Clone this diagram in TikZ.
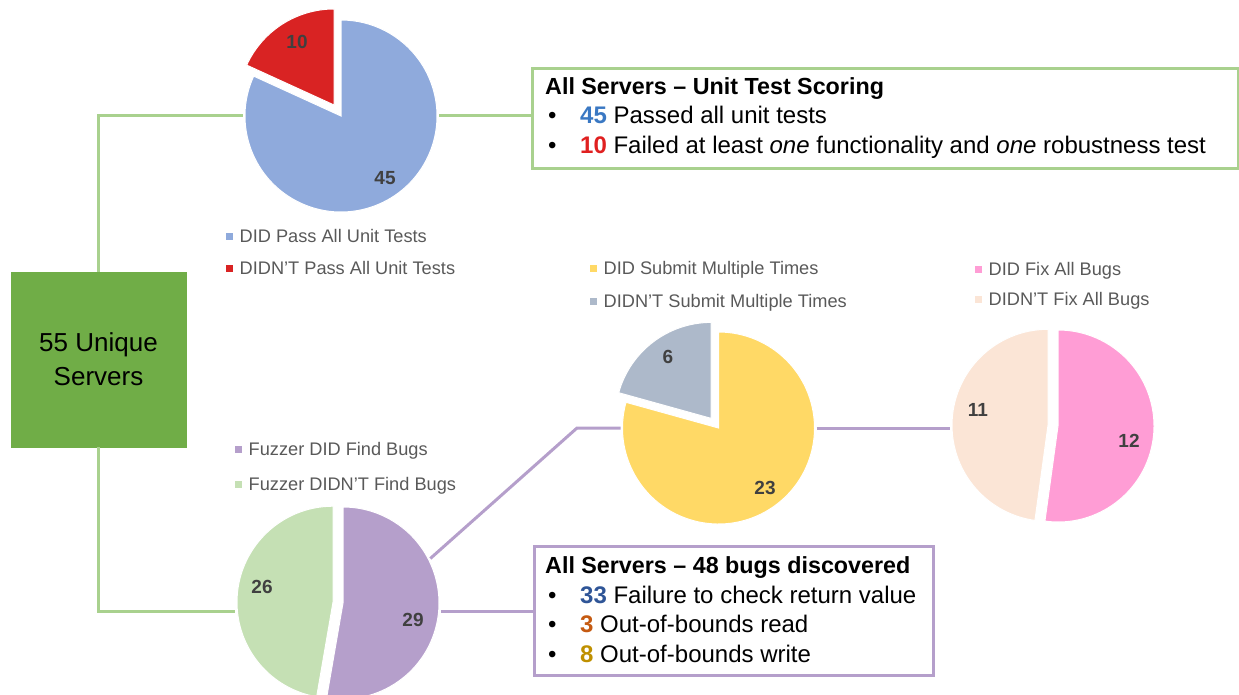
\documentclass[tikz,border=0pt]{standalone}
\usepackage{fontspec}
\setmainfont{Liberation Sans}
\usetikzlibrary{calc}

% palette
\definecolor{passblue}{HTML}{8FAADC}
\definecolor{failred}{HTML}{D92323}
\definecolor{multiyellow}{HTML}{FFD966}
\definecolor{singlegray}{HTML}{ADB9CA}
\definecolor{fixpink}{HTML}{FF9DD5}
\definecolor{nofixpeach}{HTML}{FBE5D6}
\definecolor{bugpurple}{HTML}{B59FCB}
\definecolor{nobuggreen}{HTML}{C5E0B4}
\definecolor{serversgreen}{HTML}{70AD47}
\definecolor{greenline}{HTML}{A9D18E}
\definecolor{legendgray}{HTML}{595959}
\definecolor{labelgray}{HTML}{404040}
\definecolor{numblue}{HTML}{3A78C3}
\definecolor{numred}{HTML}{E02020}
\definecolor{numnavy}{HTML}{2F5597}
\definecolor{numorange}{HTML}{C55A11}
\definecolor{numgold}{HTML}{BF9000}

% one wedge of a pie: colour, centre x, centre y, radius, start angle, end angle
\newcommand{\pieslice}[6]{%
  \fill[#1, draw=white, line width=1pt] (#2,#3) -- ++(#5:#4pt)
    arc[start angle=#5, end angle=#6, radius=#4pt] -- cycle;}

\tikzset{
  piearea/.style={circle, minimum size=192pt, inner sep=0pt, outer sep=2pt},
  pielabel/.style={font=\fontsize{19}{22}\selectfont\bfseries, text=labelgray, inner sep=0pt},
  legendentry/.style={anchor=west, inner sep=0pt, font=\fontsize{18.2}{22}\selectfont, text=legendgray},
  greenlink/.style={draw=greenline, line width=3pt},
  purplelink/.style={draw=bugpurple, line width=3pt},
  summarybox/.style={anchor=north west, line width=3pt, fill=white, inner sep=0pt},
  summarytext/.style={anchor=west, align=left, inner sep=0pt,
    font=\fontsize{24}{29.5}\selectfont},
}
\newcommand{\legsq}[1]{\textcolor{#1}{\rule[0.14em]{7pt}{7pt}}\hspace{6.5pt}}
\newcommand{\bul}{\hspace*{3pt}\makebox[32pt][l]{•}}
\newcommand{\boxtitle}[1]{{\fontsize{23.3}{29.5}\selectfont\bfseries #1}}

\begin{document}
\begin{tikzpicture}[x=1pt,y=1pt]
\useasboundingbox (0,0) rectangle (1239,-695);

% pie footprints used as connector ends
\node[piearea] (passpie) at (341,-116) {};
\node[piearea] (submitpie) at (718.5,-428) {};
\node[piearea] (fixpie) at (1058,-426) {};
\node[piearea] (fuzzpie) at (343,-603) {};

% central box
\node[fill=serversgreen, draw=serversgreen, minimum width=175pt, minimum height=175pt,
      inner sep=0pt, align=center, font=\fontsize{26}{34}\selectfont]
  (servers) at (98.5,-359.5) {55 Unique\\Servers};

% summary boxes
\node[summarybox, draw=greenline, minimum width=706pt, minimum height=100pt]
  (unitbox) at (531,-67) {};
\node[summarybox, draw=bugpurple, minimum width=399pt, minimum height=129pt]
  (bugbox) at (533,-545) {};

\coordinate (bend) at (577,-428);

% connectors
\draw[greenlink] (servers.north) |- (passpie.west);
\draw[greenlink] (passpie.east) -- (unitbox.west |- passpie.east);
\draw[greenlink] (servers.south) |- ([xshift=-10pt]fuzzpie.west |- bugbox.west);
\draw[purplelink] (fuzzpie.east |- bugbox.west) -- (bugbox.west);
\draw[purplelink] (fuzzpie.27) -- (bend) -- (submitpie.west);
\draw[purplelink] (submitpie.east) -- ([xshift=-10pt]fixpie.west |- submitpie.east);

% unit test pie: 45 / 10
\pieslice{passblue}{341}{-116}{96}{155.45}{450}
\pieslice{failred}{334}{-105}{96}{90}{155.45}
\node[pielabel] (l10) at (297,-42) {10};
\node[pielabel] (l45) at (385,-178) {45};

% resubmission pie: 23 / 6
\pieslice{multiyellow}{718.5}{-428}{96}{164.48}{450}
\pieslice{singlegray}{711.2}{-418.4}{96}{90}{164.48}
\node[pielabel] (l6) at (668,-357) {6};
\node[pielabel] (l23) at (765,-488) {23};

% bug fixing pie: 12 / 11
\pieslice{fixpink}{1058}{-426}{96}{-97.83}{90}
\pieslice{nofixpeach}{1048}{-425.3}{96}{90}{262.17}
\node[pielabel] (l11) at (978,-410) {11};
\node[pielabel] (l12) at (1129,-441) {12};

% fuzzer pie: 29 / 26
\pieslice{bugpurple}{343}{-603}{96}{-99.8}{90}
\pieslice{nobuggreen}{333}{-602.2}{96}{90}{260.2}
\node[pielabel] (l26) at (262,-587) {26};
\node[pielabel] (l29) at (413,-620) {29};

% legends
\node[legendentry] (legpass) at (226,-236) {\legsq{passblue}DID Pass All Unit Tests};
\node[legendentry] (legfail) at (226,-268) {\legsq{failred}DIDN'T Pass All Unit Tests};
\node[legendentry] (legmulti) at (590,-270) {\legsq{multiyellow}DID Submit Multiple Times};
\node[legendentry] (legsingle) at (590,-303) {\legsq{singlegray}DIDN'T Submit Multiple Times};
\node[legendentry] (legfix) at (975,-271) {\legsq{fixpink}DID Fix All Bugs};
\node[legendentry] (legnofix) at (975,-301) {\legsq{nofixpeach}DIDN'T Fix All Bugs};
\node[legendentry] (legbug) at (235,-451) {\legsq{bugpurple}Fuzzer DID Find Bugs};
\node[legendentry] (legnobug) at (235,-486) {\legsq{nobuggreen}Fuzzer DIDN'T Find Bugs};

% summary texts
\node[summarytext] (unittext) at (545,-118) {%
  \boxtitle{All Servers – Unit Test Scoring}\\
  \bul\textcolor{numblue}{\textbf{45}} Passed all unit tests\\
  \bul\textcolor{numred}{\textbf{10}} Failed at least \textit{one} functionality and \textit{one} robustness test};
\node[summarytext] (bugtext) at (545,-609.5) {%
  \boxtitle{All Servers – 48 bugs discovered}\\
  \bul\textcolor{numnavy}{\textbf{33}} Failure to check return value\\
  \bul\textcolor{numorange}{\textbf{3}} Out-of-bounds read\\
  \bul\textcolor{numgold}{\textbf{8}} Out-of-bounds write};
\end{tikzpicture}
\end{document}
